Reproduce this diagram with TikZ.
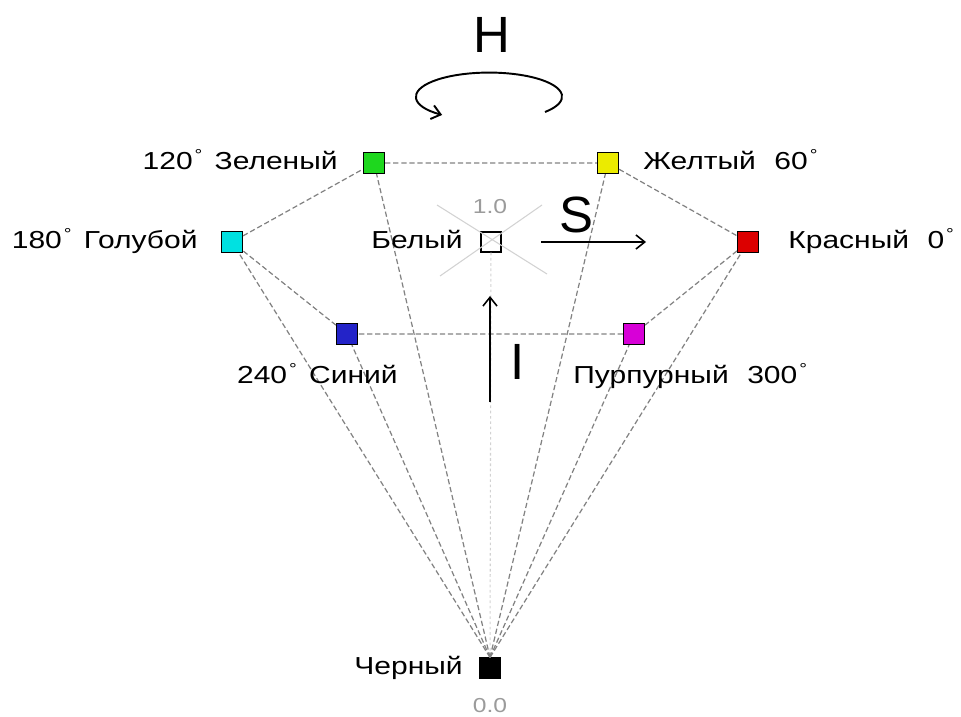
\documentclass[tikz,border=0pt]{standalone}
\usepackage{fontspec}
\usetikzlibrary{arrows.meta}
\setmainfont{Liberation Sans}
\newfontfamily\widefont[FakeStretch=1.22]{Liberation Sans}
\newcommand{\dgr}{\hspace{0.08em}\raisebox{0.7ex}{\fontsize{9}{9}\selectfont°}}
\definecolor{hgreen}{RGB}{30,215,30}
\definecolor{hyellow}{RGB}{235,235,0}
\definecolor{hred}{RGB}{220,0,0}
\definecolor{hcyan}{RGB}{0,225,225}
\definecolor{hblue}{RGB}{35,35,200}
\definecolor{hmagenta}{RGB}{215,0,215}
\definecolor{edgegray}{RGB}{130,130,130}
\definecolor{lightgray}{RGB}{210,210,210}
\tikzset{
  sq/.style={draw=black,line width=0.7pt,minimum size=0.42cm,inner sep=0pt},
  lab/.style={font=\widefont\fontsize{14}{16}\selectfont,inner sep=0pt},
  big/.style={font=\fontsize{29}{32}\selectfont,inner sep=0pt},
  val/.style={font=\widefont\fontsize{11.5}{13}\selectfont,text=edgegray!80,inner sep=0pt},
  edge/.style={edgegray,line width=0.7pt,dash pattern=on 3pt off 1.6pt},
  axis/.style={line width=0.9pt,-{Straight Barb[length=5pt,width=8pt]}}
}
\begin{document}
\begin{tikzpicture}[x=0.02cm,y=-0.02cm]
	\useasboundingbox (0,0) rectangle (961,717);
	% color squares
	\node[sq,fill=hgreen] (green) at (374,163) {};
	\node[sq,fill=hyellow] (yellow) at (608,163) {};
	\node[sq,fill=hcyan] (cyan) at (232,242) {};
	\node[sq,fill=hred] (red) at (748,242) {};
	\node[sq,fill=hblue] (blue) at (347,334) {};
	\node[sq,fill=hmagenta] (magenta) at (634,334) {};
	\node[sq,fill=white,minimum size=0.4cm] (white) at (491,242) {};
	\node[sq,fill=black,minimum size=0.4cm] (black) at (490,668) {};
	% light lines round white
	\draw[lightgray,line width=0.6pt] (437,205) -- (547,274);
	\draw[lightgray,line width=0.6pt] (542,205) -- (440,276);
	\draw[lightgray,line width=0.6pt,dash pattern=on 1.5pt off 1.5pt] (white) -- (black);
	% hexagon
	\draw[edge] (green) -- (yellow) -- (red) -- (magenta) -- (blue) -- (cyan) -- (green);
	\foreach \c in {green,yellow,red,magenta,blue,cyan}
		\draw[edge] (black.north) -- (\c);
	% labels
	\node[lab,anchor=mid east] (tgreen) at (338,165) {120\dgr\hspace{0.5em}Зеленый};
	\node[lab,anchor=mid west] (tyellow) at (643,165) {Желтый\hspace{0.75em}60\dgr};
	\node[lab,anchor=mid east] (tcyan) at (198,244) {180\dgr\hspace{0.5em}Голубой};
	\node[lab,anchor=mid west] (tred) at (788,244) {Красный\hspace{0.75em}0\dgr};
	\node[lab,anchor=mid east] (tblue) at (398,379) {240\dgr\hspace{0.5em}Синий};
	\node[lab,anchor=mid west] (tmagenta) at (573,379) {Пурпурный\hspace{0.75em}300\dgr};
	\node[lab,anchor=mid east] (twhite) at (463,244) {Белый};
	\node[lab,anchor=mid east] (tblack) at (463,670) {Черный};
	\node[val] (one) at (490,207) {1.0};
	\node[val] (zero) at (490,706) {0.0};
	% axes
	\node[big] (H) at (492,35) {H};
	\node[big] (S) at (576,215) {S};
	\node[big] (I) at (518,362) {I};
	\coordinate (s0) at (541,242);
	\coordinate (s1) at (646,242);
	\coordinate (i0) at (490,402);
	\coordinate (i1) at (490,296);
	\draw[axis] (s0) -- (s1);
	\draw[axis] (i0) -- (i1);
	\draw[line width=1.1pt,-{Straight Barb[length=5pt,width=8pt]}] (545,112) arc[start angle=40,end angle=-230,x radius=73,y radius=24];
\end{tikzpicture}
\end{document}
